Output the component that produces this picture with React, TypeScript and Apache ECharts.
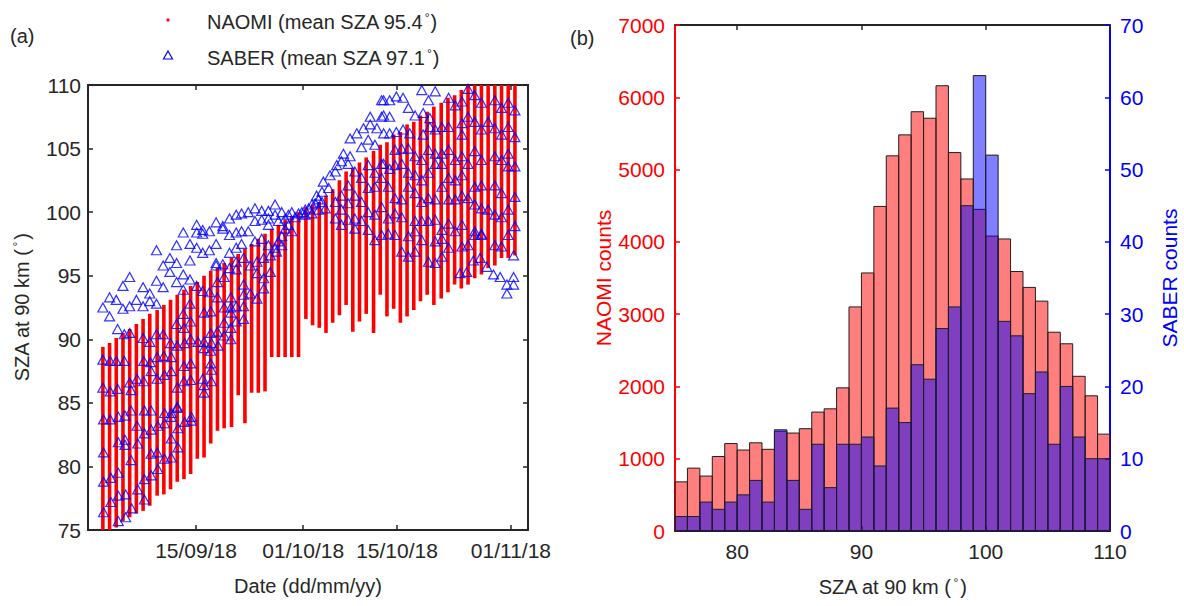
import React, { useEffect, useRef } from 'react';
import * as echarts from 'echarts';

// ---------- Panel (a): NAOMI daily SZA ranges (day of year 2018) ----------
const naomiDoy = [
  244.1, 245.1, 246.1, 247.1, 248.1, 249.1, 250.1, 251.1,
  252.2, 253.2, 254.2, 255.2, 256.2, 257.2, 258.2, 259.2, 260.2, 261.2, 262.2,
  263.3, 264.3, 265.3, 266.3, 267.3, 268.3, 269.3, 270.3, 271.3, 272.3, 273.3,
  274.4, 275.4, 276.4, 277.4, 278.4, 279.4, 280.4, 281.4, 282.4, 283.4,
  284.5, 285.5, 286.5, 287.5, 288.5, 289.5, 290.5, 291.5, 292.5, 293.5,
  294.6, 295.6, 296.6, 297.6, 298.6, 299.6, 300.6, 301.6, 302.6, 303.6, 304.6, 305.6,
];
const naomiLow = [
  74.0, 74.5, 75.2, 75.7, 76.0, 76.3, 76.5, 76.9,
  77.7, 77.8, 78.2, 78.8, 79.0, 79.4, 80.6, 80.7, 81.8, 82.8, 83.0,
  83.1, 85.6, 83.4, 85.8, 85.8, 85.9, 88.6, 88.6, 88.6, 88.6, 88.6,
  91.6, 91.1, 90.9, 90.5, 91.3, 91.9, 92.7, 90.6, 91.4, 92.0,
  90.5, 93.5, 91.8, 92.4, 91.3, 91.8, 92.3, 93.0, 93.5, 92.7,
  93.2, 93.7, 94.3, 94.0, 94.3, 94.8, 95.1, 95.6, 95.8, 96.4, 96.4, 96.6,
];
const naomiHigh = [
  89.4, 89.7, 90.1, 90.5, 90.8, 91.2, 91.6, 92.0,
  92.3, 92.7, 93.1, 93.5, 93.9, 94.2, 94.5, 95.0, 95.4, 95.6, 96.0,
  96.4, 96.7, 97.1, 97.5, 97.9, 98.3, 98.7, 99.0, 99.4, 99.7, 100.0,
  100.4, 100.6, 100.8, 101.3, 101.8, 102.5, 103.2, 103.5, 103.9, 104.3,
  104.8, 105.3, 105.5, 106.1, 106.3, 106.9, 107.1, 107.6, 107.9, 108.3,
  108.6, 109.0, 109.2, 109.6, 110.2, 110.5, 110.8, 111.1, 111.4, 111.7, 112.0, 112.3,
];

// SABER profiles: [day of year 2018, SZA at 90 km]
const saberPoints: number[][] = [
  [244.1, 92.5], [245.1, 93.3], [245.1, 91.8], [246.1, 93.1], [246.3, 90.8], [247.1, 94.2], [247.1, 92.4],
  [248.1, 94.9], [248.1, 92.6], [249.1, 93.1], [250.1, 94.1], [250.1, 92.6], [251.1, 93.6], [251.1, 93.0],
  [252.1, 97.0], [252.1, 94.6], [252.1, 92.8], [253.1, 95.8], [253.1, 94.1], [254.1, 96.4], [254.1, 95.3],
  [255.1, 97.4], [255.1, 96.0], [255.1, 94.5], [256.1, 98.4], [256.1, 95.1], [256.1, 93.9], [257.1, 97.5],
  [257.1, 96.2], [257.1, 94.7], [258.1, 99.0], [258.1, 98.4], [258.1, 97.2], [258.1, 94.2], [259.0, 98.6],
  [259.0, 98.3], [259.0, 96.8], [260.0, 98.5], [260.0, 97.0], [261.0, 99.2], [261.0, 97.5], [261.0, 96.0],
  [262.0, 98.9], [262.0, 98.7], [263.0, 99.5], [263.0, 98.2], [263.0, 96.8], [264.0, 99.8], [264.0, 98.4],
  [264.0, 97.2],
  [244.1, 88.4], [244.1, 86.2], [244.2, 83.7], [244.2, 81.1], [244.2, 78.8], [244.2, 76.4],
  [245.2, 88.3], [245.2, 85.9], [245.2, 83.7], [245.3, 79.1], [245.3, 77.2],
  [246.1, 88.3], [246.3, 86.1], [246.4, 83.9], [246.4, 81.9], [246.4, 79.5], [246.4, 77.7], [246.4, 75.7],
  [247.3, 90.4], [247.3, 88.3], [247.4, 84.0], [247.4, 82.1], [247.4, 81.7], [247.5, 77.8], [247.5, 76.0],
  [248.1, 90.5], [248.1, 86.6], [248.3, 86.0], [248.3, 84.4], [248.3, 80.5], [248.4, 76.7],
  [249.2, 86.9], [249.2, 83.2], [249.3, 81.8], [249.3, 78.2],
  [250.1, 90.1], [250.2, 88.3], [250.2, 86.7], [250.3, 84.4], [250.3, 82.6], [250.3, 79.0], [250.3, 77.4],
  [251.1, 89.8], [251.2, 88.2], [251.3, 87.5], [251.3, 84.4], [251.3, 82.9], [251.3, 81.0], [251.3, 79.3],
  [252.1, 90.4], [252.2, 88.6], [252.2, 86.9], [252.3, 83.2], [252.2, 81.1], [252.3, 79.8],
  [253.1, 90.4], [253.2, 88.7], [253.3, 87.2], [253.3, 84.2], [253.3, 83.4], [253.3, 80.6],
  [254.2, 89.7], [254.3, 88.6], [254.3, 87.5], [254.3, 84.2], [254.3, 83.9], [254.3, 82.2], [254.3, 80.7],
  [255.1, 91.2], [255.2, 89.5], [255.2, 86.2], [255.2, 84.7], [255.2, 84.6], [255.3, 83.0], [255.3, 81.5],
  [256.1, 92.0], [256.2, 90.9], [256.3, 89.7], [256.2, 87.9], [256.2, 86.7], [256.3, 83.5],
  [257.1, 92.8], [257.2, 91.4], [257.2, 90.0], [257.2, 88.1], [257.2, 86.8], [257.3, 83.9], [257.3, 83.6],
  [258.3, 89.8],
  [259.0, 93.8], [259.2, 92.1], [259.2, 89.8], [259.2, 89.3], [259.0, 86.9], [259.2, 86.4], [259.2, 85.8],
  [260.0, 93.7], [260.2, 92.2], [260.2, 90.5], [260.3, 89.7], [260.2, 89.1], [260.2, 88.1], [260.3, 87.6], [260.3, 86.7],
  [261.0, 95.8], [261.2, 94.5], [261.2, 93.3], [261.2, 90.6], [261.3, 89.5],
  [262.0, 95.9], [262.2, 94.9], [262.2, 92.5], [262.2, 91.3], [262.2, 90.3],
  [263.0, 95.6], [263.2, 93.3], [263.2, 92.5], [263.2, 92.1], [263.2, 90.9], [263.2, 90.0],
  [264.0, 96.1], [264.0, 95.5], [264.0, 92.6], [264.0, 91.4],
  [264.8, 99.9], [265.8, 100.0], [266.8, 100.3], [267.8, 100.1], [268.8, 100.1], [269.8, 100.6],
  [264.8, 98.5], [265.8, 98.5], [266.8, 99.3], [267.8, 99.4], [268.8, 99.0],
  [264.8, 97.5], [266.8, 97.7], [267.8, 97.9], [268.8, 97.4],
  [265.1, 96.4], [266.1, 95.8], [267.1, 96.1], [268.1, 96.4], [269.1, 96.6], [270.0, 96.9],
  [265.1, 94.3], [267.1, 95.2], [268.1, 94.8], [269.1, 95.3],
  [265.1, 93.5], [266.1, 93.6], [267.1, 93.2], [268.1, 94.0], [265.1, 92.6], [265.1, 91.6],
  [268.8, 99.5], [269.8, 99.8], [270.3, 99.3], [270.8, 100.0], [271.3, 99.5], [271.8, 99.8], [272.3, 100.0],
  [272.8, 99.6], [273.3, 99.9], [273.8, 100.0], [274.3, 100.2], [274.8, 100.3], [275.3, 100.6], [275.8, 100.7],
  [276.3, 101.0], [274.3, 99.8], [275.3, 99.9], [276.3, 100.2], [277.3, 100.3], [271.8, 99.0], [272.3, 98.5],
  [271.3, 98.7], [270.8, 98.1], [270.3, 97.7], [269.8, 97.2], [270.8, 97.4],
  [281.0, 105.8], [282.0, 106.2], [283.0, 106.6], [284.0, 107.5], [284.0, 106.9], [285.0, 106.6], [285.7, 108.8],
  [285.7, 107.5], [282.7, 105.1], [283.7, 105.7], [284.7, 105.3], [280.0, 104.6], [281.0, 104.4], [279.0, 103.7],
  [279.7, 104.0], [280.7, 103.8], [277.0, 102.4], [278.0, 102.9], [278.8, 103.2], [276.0, 101.3], [276.8, 101.6],
  [276.8, 100.8], [277.8, 101.9], [278.8, 100.8], [278.8, 99.5], [279.7, 101.3], [279.7, 100.2], [279.7, 99.0],
  [280.7, 102.1], [280.7, 100.7], [280.7, 99.4], [281.7, 103.2], [281.7, 101.3], [281.7, 99.5], [281.7, 98.7],
  [282.7, 102.7], [282.7, 100.8], [282.7, 99.3], [283.7, 103.7], [283.7, 101.9], [283.7, 100.0], [283.7, 98.6],
  [284.7, 103.1], [284.7, 102.0], [284.7, 99.8], [284.7, 97.8], [285.7, 103.8], [285.7, 102.7], [285.7, 100.4],
  [285.7, 98.2],
  [286.0, 108.8], [286.9, 108.8], [287.9, 109.1], [288.9, 109.0], [291.7, 109.6], [293.7, 109.5], [292.7, 108.8],
  [298.6, 109.7], [289.7, 108.2], [290.7, 107.6], [291.9, 107.8], [286.0, 107.6], [286.9, 107.5],
  [286.0, 106.2], [286.9, 106.2], [287.9, 106.3], [288.9, 106.5], [289.9, 106.2], [292.9, 107.4], [292.9, 106.7],
  [291.9, 106.1], [293.7, 106.5], [294.7, 106.7], [295.7, 109.0], [295.7, 106.7], [296.7, 108.4], [297.7, 108.7],
  [297.7, 107.0], [297.7, 106.1], [298.6, 107.5], [299.6, 109.2], [299.6, 107.1], [300.6, 108.6], [300.6, 106.5],
  [301.6, 107.1], [302.6, 108.8], [302.6, 106.6], [303.6, 108.2], [303.6, 106.1], [304.6, 108.6], [304.6, 106.7],
  [305.6, 108.0], [305.6, 105.9],
  [287.7, 104.9], [288.7, 105.0], [289.7, 105.0], [290.7, 104.4], [291.7, 104.1], [292.7, 104.9], [293.7, 104.6],
  [294.7, 104.6], [295.7, 104.9], [296.7, 104.1], [297.7, 104.4], [298.6, 103.8], [299.6, 104.8], [300.6, 104.1],
  [302.6, 104.4], [303.6, 104.1], [304.6, 104.6], [305.6, 103.6], [304.6, 103.6],
  [286.0, 103.8], [286.9, 103.4], [287.7, 103.7], [288.7, 103.8], [289.7, 103.1], [290.7, 102.9], [291.7, 102.5],
  [292.7, 103.1], [293.7, 103.8], [294.7, 103.8], [295.7, 102.7], [296.7, 102.5], [297.7, 102.9], [299.6, 102.0],
  [300.6, 102.1], [302.6, 102.1], [303.6, 101.5], [305.6, 101.2],
  [286.7, 102.0], [287.7, 101.1], [288.7, 101.0], [289.7, 102.0], [290.7, 101.5], [291.7, 100.8], [292.7, 101.1],
  [293.7, 101.0], [294.7, 102.0], [295.7, 101.0], [296.7, 101.0], [297.7, 101.3], [298.6, 101.1], [299.6, 100.6],
  [300.6, 100.3], [301.6, 100.2], [302.6, 99.8], [303.6, 99.6], [304.6, 100.2], [305.6, 98.9],
  [286.7, 99.5], [287.7, 99.9], [288.7, 99.6], [290.7, 99.3], [291.7, 99.3], [292.7, 99.3], [293.7, 99.4],
  [294.7, 98.6], [295.7, 99.1], [296.7, 98.5], [297.7, 99.0], [298.6, 97.4], [299.6, 98.5], [300.6, 98.2],
  [302.6, 97.4], [303.6, 97.3], [304.6, 98.2],
  [286.7, 98.3], [287.7, 98.2], [289.7, 98.1], [290.7, 98.5], [291.7, 97.8], [293.7, 97.7], [294.7, 97.9],
  [295.7, 97.2], [297.7, 97.3], [299.6, 98.2], [300.6, 98.3],
  [288.7, 96.9], [289.7, 96.5], [290.7, 96.9], [292.7, 96.1], [293.7, 96.0], [294.7, 96.5], [297.4, 95.2],
  [298.4, 95.3], [299.4, 96.2], [300.4, 96.4], [301.4, 95.7], [302.4, 95.1], [303.4, 94.9], [304.4, 94.3],
  [304.4, 93.6], [305.4, 94.9], [305.4, 94.3], [305.4, 96.6],
];

const dateTicks = [258, 274, 288, 305]; // 15/09, 01/10, 15/10, 01/11 (day of year 2018)

// ---------- Panel (b): histograms, 1-degree bins ----------
const binStart = [
  75, 76, 77, 78, 79, 80, 81, 82, 83, 84, 85, 86, 87, 88, 89, 90, 91, 92,
  93, 94, 95, 96, 97, 98, 99, 100, 101, 102, 103, 104, 105, 106, 107, 108, 109,
];
const naomiCounts = [
  680, 870, 760, 1030, 1210, 1120, 1220, 1130, 1380, 1355, 1415, 1645, 1690, 1980, 3100, 3570, 4490, 5190,
  5480, 5800, 5710, 6160, 5235, 4870, 4450, 4080, 4040, 3590, 3370, 3180, 2750, 2590, 2140, 1870, 1340,
];
const saberCounts = [
  2, 2, 4, 3, 4, 5, 7, 4, 14, 7, 3, 12, 6, 12, 12, 13, 9, 17,
  15, 23, 21, 28, 31, 45, 63, 52, 29, 27, 19, 22, 12, 20, 13, 10, 10,
];
const szaTicks = [80, 90, 100, 110];

const SZA_MIN = 75;
const SZA_MAX = 110;
const FONT = "'Liberation Sans', Arial, Helvetica, sans-serif";
const AX = '#262626';
const FS = 20;
const TFS = 21;

function doyLabel(doy: number): string {
  const d = new Date(Date.UTC(2018, 0, 1) + (doy - 1) * 86400000);
  const dd = String(d.getUTCDate()).padStart(2, '0');
  const mm = String(d.getUTCMonth() + 1).padStart(2, '0');
  const yy = String(d.getUTCFullYear() % 100).padStart(2, '0');
  return `${dd}/${mm}/${yy}`;
}

const plain = (v: number) => String(v);

const supRich = (color: string) => ({
  sup: { fontSize: 12, fontFamily: FONT, color, verticalAlign: 'top', padding: [0, 2, 0, 2] },
});

export default function App() {
  const ref = useRef<HTMLDivElement>(null);

  useEffect(() => {
    if (!ref.current) return;
    const chart = echarts.init(ref.current, undefined, { renderer: 'svg' });

    const baseLabel = { color: AX, fontSize: FS, fontFamily: FONT };
    const tickLabel = { color: AX, fontSize: TFS, fontFamily: FONT };

    const option: any = {
      animation: false,
      backgroundColor: '#ffffff',
      textStyle: { fontFamily: FONT },
      grid: [
        { left: 88, top: 85, width: 440, height: 445 },
        { left: 675, top: 25, width: 435, height: 506 },
      ],
      xAxis: [
        {
          gridIndex: 0, type: 'value', position: 'bottom', min: 241.88, max: 307.55,
          axisLine: { onZero: false, lineStyle: { color: AX, width: 2 } },
          axisTick: { inside: true, length: 5, customValues: dateTicks, lineStyle: { color: AX, width: 1.5 } },
          axisLabel: { ...tickLabel, customValues: dateTicks, margin: 10, formatter: (v: number) => doyLabel(v) },
          splitLine: { show: false },
          name: 'Date (dd/mm/yy)', nameLocation: 'middle', nameGap: 46,
          nameTextStyle: { ...baseLabel },
        },
        {
          gridIndex: 0, type: 'value', position: 'top', min: 241.88, max: 307.55,
          axisLine: { onZero: false, lineStyle: { color: AX, width: 2 } },
          axisTick: { inside: true, length: 5, customValues: dateTicks, lineStyle: { color: AX, width: 1.5 } },
          axisLabel: { show: false }, splitLine: { show: false },
        },
        {
          gridIndex: 1, type: 'value', position: 'bottom', min: 75, max: 110,
          axisLine: { onZero: false, lineStyle: { color: AX, width: 2 } },
          axisTick: { inside: true, length: 5, customValues: szaTicks, lineStyle: { color: AX, width: 1.5 } },
          axisLabel: { ...tickLabel, customValues: szaTicks, margin: 10, formatter: plain },
          splitLine: { show: false },
          name: 'SZA at 90 km ({sup|°})', nameLocation: 'middle', nameGap: 46,
          nameTextStyle: { ...baseLabel, rich: supRich(AX) },
        },
        {
          gridIndex: 1, type: 'value', position: 'top', min: 75, max: 110,
          axisLine: { onZero: false, lineStyle: { color: AX, width: 2 } },
          axisTick: { inside: true, length: 5, customValues: szaTicks, lineStyle: { color: AX, width: 1.5 } },
          axisLabel: { show: false }, splitLine: { show: false },
        },
      ],
      yAxis: [
        {
          gridIndex: 0, type: 'value', position: 'left', min: 75, max: 110, interval: 5,
          axisLine: { onZero: false, lineStyle: { color: AX, width: 2 } },
          axisTick: { inside: true, length: 5, lineStyle: { color: AX, width: 1.5 } },
          axisLabel: { ...tickLabel, margin: 7, formatter: plain },
          splitLine: { show: false },
          name: 'SZA at 90 km ({sup|°})', nameLocation: 'middle', nameGap: 56, nameRotate: 90,
          nameTextStyle: { ...baseLabel, rich: supRich(AX) },
        },
        {
          gridIndex: 0, type: 'value', position: 'right', min: 75, max: 110, interval: 5,
          axisLine: { onZero: false, lineStyle: { color: AX, width: 2 } },
          axisTick: { inside: true, length: 5, lineStyle: { color: AX, width: 1.5 } },
          axisLabel: { show: false }, splitLine: { show: false },
        },
        {
          gridIndex: 1, type: 'value', position: 'left', min: 0, max: 7000, interval: 1000,
          axisLine: { onZero: false, lineStyle: { color: '#ff0000', width: 2 } },
          axisTick: { inside: true, length: 5, lineStyle: { color: '#ff0000', width: 1.5 } },
          axisLabel: { ...tickLabel, color: '#ff0000', margin: 10, formatter: plain },
          splitLine: { show: false },
          name: 'NAOMI counts', nameLocation: 'middle', nameGap: 61, nameRotate: 90,
          nameTextStyle: { ...tickLabel, color: '#ff0000' },
        },
        {
          gridIndex: 1, type: 'value', position: 'right', min: 0, max: 70, interval: 10,
          axisLine: { onZero: false, lineStyle: { color: '#0000ff', width: 2 } },
          axisTick: { inside: true, length: 5, lineStyle: { color: '#0000ff', width: 1.5 } },
          axisLabel: { ...tickLabel, color: '#0000ff', margin: 10, formatter: plain },
          splitLine: { show: false },
          name: 'SABER counts', nameLocation: 'middle', nameGap: 49, nameRotate: 90,
          nameTextStyle: { ...tickLabel, color: '#0000ff' },
        },
      ],
      series: [
        {
          name: 'NAOMI', type: 'custom', xAxisIndex: 0, yAxisIndex: 0, clip: true,
          data: naomiDoy.map((d, i) => [d, naomiLow[i], naomiHigh[i]]),
          encode: { x: 0, y: [1, 2] },
          renderItem: (_p: any, api: any) => {
            const x = api.value(0);
            const lo = Math.max(api.value(1), SZA_MIN);
            const hi = Math.min(api.value(2), SZA_MAX);
            const a = api.coord([x, lo]);
            const b = api.coord([x, hi]);
            return {
              type: 'line',
              shape: { x1: a[0], y1: a[1], x2: b[0], y2: b[1] },
              style: { stroke: '#ff0000', lineWidth: 3.6 },
            };
          },
          z: 2,
        },
        {
          name: 'SABER', type: 'scatter', xAxisIndex: 0, yAxisIndex: 0,
          data: saberPoints, symbol: 'triangle', symbolSize: [10, 9],
          itemStyle: { color: 'rgba(0,0,0,0)', borderColor: '#0000ff', borderWidth: 1.2 },
          z: 3,
        },
        {
          name: 'NAOMI hist', type: 'custom', xAxisIndex: 2, yAxisIndex: 2,
          data: binStart.map((b, i) => [b, naomiCounts[i]]),
          encode: { x: 0, y: 1 },
          renderItem: (_p: any, api: any) => {
            const x0 = api.value(0);
            const p0 = api.coord([x0, api.value(1)]);
            const p1 = api.coord([x0 + 1, 0]);
            return {
              type: 'rect',
              shape: { x: p0[0], y: p0[1], width: p1[0] - p0[0], height: p1[1] - p0[1] },
              style: { fill: 'rgba(255,0,0,0.5)', stroke: '#1f1f1f', lineWidth: 1 },
            };
          },
          z: 2,
        },
        {
          name: 'SABER hist', type: 'custom', xAxisIndex: 2, yAxisIndex: 3,
          data: binStart.map((b, i) => [b, saberCounts[i]]),
          encode: { x: 0, y: 1 },
          renderItem: (_p: any, api: any) => {
            const x0 = api.value(0);
            const p0 = api.coord([x0, api.value(1)]);
            const p1 = api.coord([x0 + 1, 0]);
            return {
              type: 'rect',
              shape: { x: p0[0], y: p0[1], width: p1[0] - p0[0], height: p1[1] - p0[1] },
              style: { fill: 'rgba(0,0,255,0.5)', stroke: '#1f1f1f', lineWidth: 1 },
            };
          },
          z: 3,
        },
      ],
      graphic: [
        { type: 'text', left: 10, top: 26, style: { text: '(a)', fontSize: FS, fontFamily: FONT, fill: AX } },
        { type: 'text', left: 570, top: 28, style: { text: '(b)', fontSize: FS, fontFamily: FONT, fill: AX } },
        { type: 'circle', shape: { cx: 168, cy: 20, r: 1.6 }, style: { fill: '#ff0000' } },
        {
          type: 'text', x: 207, y: 22,
          style: {
            text: 'NAOMI (mean SZA 95.4{sup|°})', fontSize: FS, fontFamily: FONT, fill: AX,
            verticalAlign: 'middle', rich: { sup: { fontSize: 12, fontFamily: FONT, fill: AX, verticalAlign: 'top', padding: [0, 1, 0, 1] } },
          },
        },
        {
          type: 'polygon', shape: { points: [[168, 51], [172.5, 59], [163.5, 59]] },
          style: { fill: 'none', stroke: '#0000ff', lineWidth: 1.2 },
        },
        {
          type: 'text', x: 207, y: 58,
          style: {
            text: 'SABER (mean SZA 97.1{sup|°})', fontSize: FS, fontFamily: FONT, fill: AX,
            verticalAlign: 'middle', rich: { sup: { fontSize: 12, fontFamily: FONT, fill: AX, verticalAlign: 'top', padding: [0, 1, 0, 1] } },
          },
        },
      ],
    };

    chart.setOption(option);
    return () => chart.dispose();
  }, []);

  return (
    <div
      ref={ref}
      style={{ position: 'fixed', left: 0, top: 0, width: 1184, height: 606, background: '#fff' }}
    />
  );
}
